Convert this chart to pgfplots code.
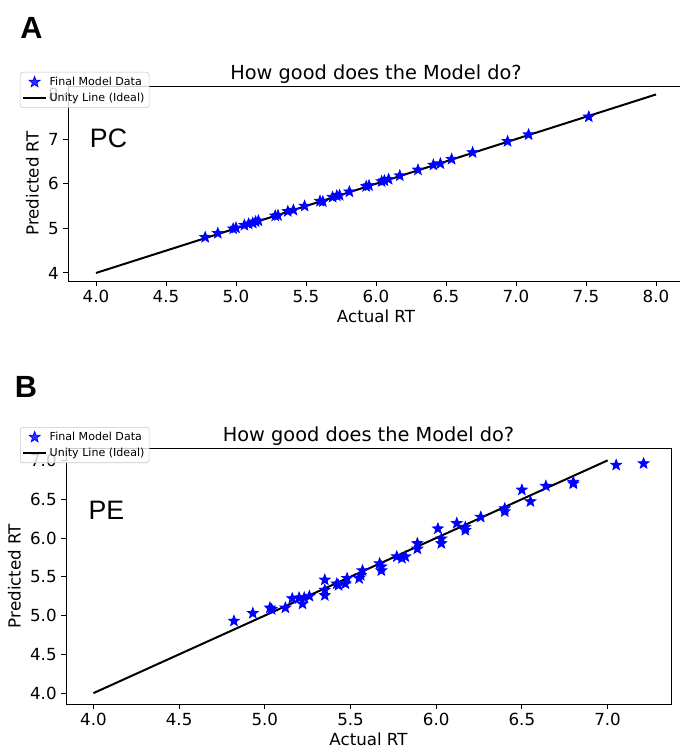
\documentclass[border=0pt]{standalone}
\usepackage{fontspec}
\setmainfont{DejaVu Sans}
\newfontfamily\arial{Liberation Sans}
\usepackage{pgfplots}
\pgfplotsset{compat=1.18}

% filled five-point star, like matplotlib's '*'
\pgfdeclareplotmark{fstar}{%
  \pgfpathmoveto{\pgfpointpolar{90}{\pgfplotmarksize}}%
  \pgfpathlineto{\pgfpointpolar{126}{0.42\pgfplotmarksize}}%
  \pgfpathlineto{\pgfpointpolar{162}{\pgfplotmarksize}}%
  \pgfpathlineto{\pgfpointpolar{198}{0.42\pgfplotmarksize}}%
  \pgfpathlineto{\pgfpointpolar{234}{\pgfplotmarksize}}%
  \pgfpathlineto{\pgfpointpolar{270}{0.42\pgfplotmarksize}}%
  \pgfpathlineto{\pgfpointpolar{306}{\pgfplotmarksize}}%
  \pgfpathlineto{\pgfpointpolar{342}{0.42\pgfplotmarksize}}%
  \pgfpathlineto{\pgfpointpolar{18}{\pgfplotmarksize}}%
  \pgfpathlineto{\pgfpointpolar{54}{0.42\pgfplotmarksize}}%
  \pgfpathclose
  \pgfusepathqfillstroke}

\pgfplotsset{
  rt/.style={
    scale only axis,
    axis line style={line width=0.7pt},
    tick align=outside, tick pos=left,
    major tick length=3.5pt,
    every tick/.style={black, line width=0.7pt},
    tick label style={font=\fontsize{12.5}{14}\selectfont},
    label style={font=\fontsize{12.5}{14}\selectfont},
    xlabel style={yshift=2pt},
    title style={font=\fontsize{14.5}{17}\selectfont, at={(0.5,1)}, anchor=base, yshift=-1.5pt},
    /pgf/number format/assume math mode=true,
    xlabel={Actual RT}, ylabel={Predicted RT},
    title={How good does the Model do?},
    xticklabel style={/pgf/number format/.cd, fixed, fixed zerofill, precision=1},
    legend cell align=left,
    legend style={anchor=north west, font=\fontsize{8.3}{9.5}\selectfont,
      draw=gray!45, fill=white, fill opacity=0.8, text opacity=1,
      rounded corners=2pt, inner sep=1.5pt,
      /tikz/column 2/.style={column sep=4pt}},
  },
  pts/.style={only marks, mark=fstar, mark size=4.2pt, blue, mark options={fill=blue, draw=blue, line width=0.6pt}},
  unity/.style={black, line width=1.5pt, mark=none},
}

\pgfplotstableread{
x y
4.78 4.80
4.87 4.89
4.98 4.99
5.00 5.01
5.06 5.07
5.09 5.10
5.12 5.12
5.14 5.15
5.16 5.17
5.28 5.28
5.30 5.29
5.37 5.38
5.41 5.41
5.49 5.50
5.60 5.61
5.62 5.60
5.69 5.70
5.72 5.73
5.74 5.74
5.81 5.82
5.93 5.94
5.95 5.96
6.04 6.05
6.06 6.07
6.09 6.10
6.17 6.18
6.30 6.31
6.41 6.42
6.46 6.45
6.54 6.55
6.69 6.70
6.94 6.95
7.09 7.10
7.52 7.50
}\pcdata

\pgfplotstableread{
x y
4.82 4.93
4.93 5.03
5.03 5.10
5.04 5.08
5.12 5.10
5.16 5.22
5.20 5.23
5.22 5.15
5.23 5.23
5.26 5.25
5.35 5.46
5.35 5.33
5.35 5.26
5.42 5.41
5.43 5.39
5.47 5.41
5.48 5.48
5.55 5.48
5.56 5.52
5.57 5.58
5.67 5.67
5.68 5.58
5.68 5.63
5.77 5.76
5.80 5.74
5.82 5.76
5.89 5.86
5.89 5.93
6.01 6.12
6.03 5.99
6.03 5.93
6.12 6.19
6.17 6.10
6.17 6.14
6.26 6.27
6.40 6.38
6.40 6.34
6.50 6.62
6.55 6.47
6.64 6.67
6.80 6.72
6.80 6.70
7.05 6.94
7.21 6.96
}\pedata

\begin{document}
\begin{tikzpicture}
\path[use as bounding box] (0,0) rectangle (509.25pt,561.75pt);

\node[anchor=base west, inner sep=0pt, font=\arial\bfseries\fontsize{23}{25}\selectfont] at (15pt,532.5pt) {A};
\node[anchor=base west, inner sep=0pt, font=\arial\bfseries\fontsize{23}{25}\selectfont] at (11pt,263.25pt) {B};

% panel A
\begin{axis}[rt,
  at={(51pt,351pt)}, anchor=south west,
  width=462pt, height=146.25pt,
  xmin=3.8, xmax=8.2, ymin=3.82, ymax=8.19,
  xtick={4,4.5,...,8}, ytick={4,5,6,7,8},
  legend style={at={(-0.078,1.072)}},
]
\addplot[pts] table {\pcdata};
\addlegendentry{Final Model Data}
\addplot[unity] coordinates {(4,4) (8,8)};
\addlegendentry{Unity Line (Ideal)}
\node[anchor=west, inner sep=0pt, font=\arial\fontsize{20}{22}\selectfont] at (axis cs:3.955,7.02) {PC};
\end{axis}

% panel B
\begin{axis}[rt,
  at={(49.5pt,33.75pt)}, anchor=south west,
  width=453.75pt, height=192pt,
  xmin=3.84, xmax=7.37, ymin=3.86, ymax=7.16,
  xtick={4,4.5,...,7}, ytick={4,4.5,...,7},
  yticklabel style={/pgf/number format/.cd, fixed, fixed zerofill, precision=1},
  legend style={at={(-0.076,1.082)}},
]
\addplot[pts] table {\pedata};
\addlegendentry{Final Model Data}
\addplot[unity] coordinates {(4,4) (7,7)};
\addlegendentry{Unity Line (Ideal)}
\node[anchor=west, inner sep=0pt, font=\arial\fontsize{20}{22}\selectfont] at (axis cs:3.97,6.36) {PE};
\end{axis}
\end{tikzpicture}
\end{document}
